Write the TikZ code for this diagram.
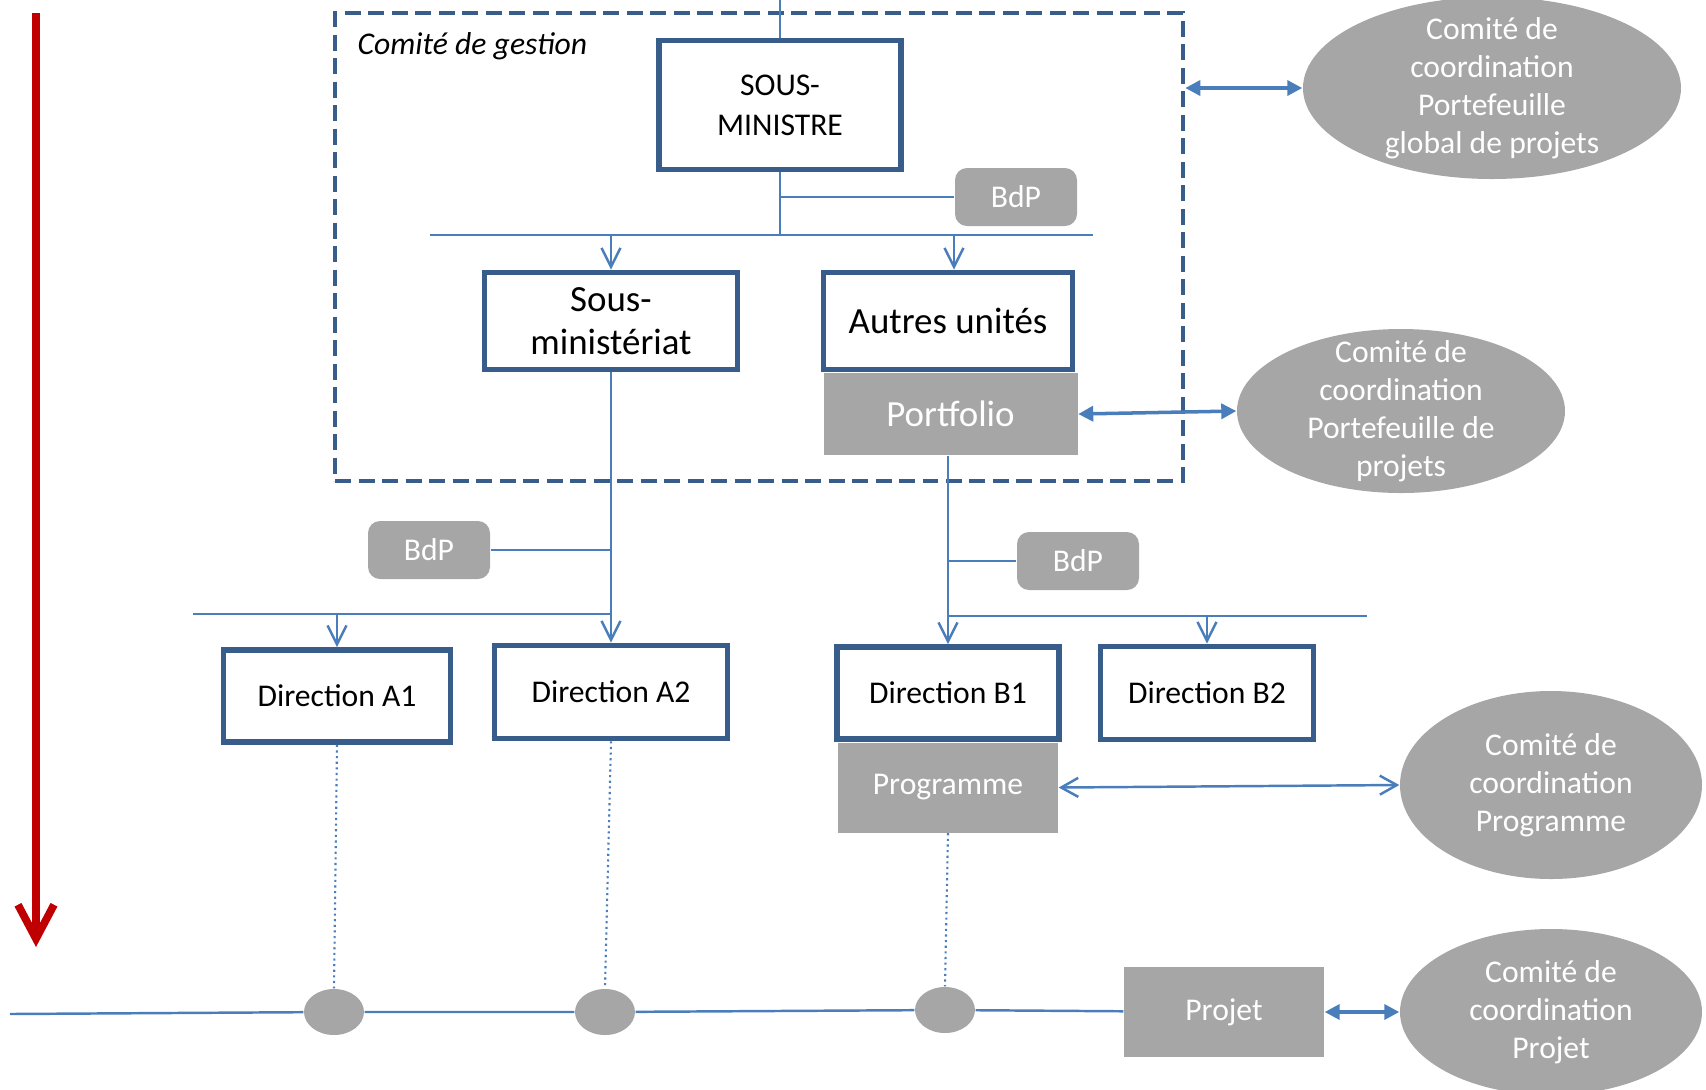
\documentclass[tikz,border=0pt]{standalone}
\usepackage{fontspec}
\setmainfont{Carlito}
\usetikzlibrary{arrows.meta,positioning,shapes.geometric}
\definecolor{boxblue}{HTML}{385D8A}
\definecolor{linkblue}{HTML}{4A7EBB}
\definecolor{panelgray}{HTML}{A6A6A6}
\definecolor{darkred}{HTML}{C00000}
\newcommand{\smallfont}{\fontsize{9pt}{10.8pt}\selectfont}
\newcommand{\largefont}{\fontsize{10.5pt}{12.4pt}\selectfont}

\begin{document}
\begin{tikzpicture}[
  x=0.1mm, y=-0.1mm,
  unit/.style={rectangle, draw=boxblue, line width=1.6pt, fill=white, align=center,
              inner sep=0pt, font=\smallfont},
  panel/.style={rectangle, fill=panelgray, text=white, align=center, inner sep=0pt, font=\smallfont},
  bdp/.style={panel, rounded corners=1.2mm, minimum width=12.2mm, minimum height=5.8mm},
  comite/.style={ellipse, fill=panelgray, text=white, align=center, inner sep=-2mm, font=\smallfont},
  knot/.style={ellipse, fill=panelgray, minimum width=6mm, minimum height=4.6mm, inner sep=0pt},
  frame/.style={rectangle, draw=boxblue, line width=1.3pt, dash pattern=on 1.6mm off 0.75mm, inner sep=0pt},
  link/.style={linkblue, line width=0.7pt},
  down/.style={link, -{Straight Barb[length=1.9mm, width=1.9mm]}},
  dots/.style={linkblue, line width=0.6pt, densely dotted},
  both/.style={linkblue, line width=1pt, {Triangle[length=1.5mm, width=1.5mm]}-{Triangle[length=1.5mm, width=1.5mm]}},
  bothopen/.style={link, {Straight Barb[length=1.7mm, width=1.9mm]}-{Straight Barb[length=1.7mm, width=1.9mm]}},
  timeline/.style={darkred, line width=2.2pt, -{Straight Barb[length=3.4mm, width=3.6mm]}}
]
\useasboundingbox (0,0) rectangle (1706,1089);

\node[frame, minimum width=84.8mm, minimum height=46.8mm] (gestion) at (759,247) {};
\node[font=\smallfont\itshape, anchor=base west, inner sep=0pt] (gestionlabel) at (357,54) {Comité de gestion};

\node[unit, font=\fontsize{9pt}{11.4pt}\selectfont, minimum width=24.2mm, minimum height=12.9mm] (sm) at (780,105) {SOUS-\\MINISTRE};
\node[bdp] (bdp1) at (1016,197) {BdP};
\node[unit, font=\largefont, minimum width=25.3mm, minimum height=9.7mm] (sousmin) at (611,321) {Sous-\\ministériat};
\node[unit, font=\largefont, minimum width=24.9mm, minimum height=9.7mm] (autres) at (948,321) {Autres unités};
\node[panel, font=\largefont, minimum width=25.4mm, minimum height=8.2mm, below=0pt of autres, xshift=0.25mm] (portfolio) {Portfolio};

\node[comite, minimum width=37.8mm, minimum height=18.2mm] (glob) at (1492,88)
  {Comité de\\coordination\\Portefeuille\\global de projets};
\node[comite, minimum width=32.8mm, minimum height=16.4mm] (portcc) at (1401,411)
  {Comité de\\coordination\\Portefeuille de\\projets};

\node[bdp] (bdp2) at (429,550) {BdP};
\node[bdp] (bdp3) at (1078,561) {BdP};

\node[unit, minimum width=22.7mm, minimum height=9.2mm] (dirA1) at (337,696) {Direction A1};
\node[unit, minimum width=23.3mm, minimum height=9.3mm] (dirA2) at (611,692) {Direction A2};
\node[unit, minimum width=22.2mm, minimum height=9.2mm] (dirB1) at (948,693) {Direction B1};
\node[unit, minimum width=21.3mm, minimum height=9.3mm] (dirB2) at (1207,693) {Direction B2};
\node[panel, minimum width=22mm, minimum height=9mm, below=0pt of dirB1] (programme) {Programme};

\node[comite, minimum width=30.2mm, minimum height=18.8mm] (progcc) at (1551,785)
  {Comité de\\coordination\\Programme};

\node[knot] (c1) at (334,1012) {};
\node[knot] (c2) at (605,1012) {};
\node[knot] (c3) at (945,1010) {};
\node[panel, minimum width=20mm, minimum height=9mm] (projet) at (1224,1012) {Projet};
\node[comite, minimum width=30.2mm, minimum height=16.6mm] (projcc) at (1551,1012)
  {Comité de\\coordination\\Projet};

\coordinate (top) at (780,0);
\coordinate (barL) at (430,235);
\coordinate (barR) at (1093,235);
\coordinate (barA) at (193,614);
\coordinate (barB) at (1367,616);
\coordinate (baseL) at (10,1014);
\coordinate (timeA) at (36,13);
\coordinate (timeB) at (36,947);

\draw[link] (top) -- (sm.north);
\draw[link] (sm.south) -- (sm.south |- barL);
\draw[link] (sm.south |- bdp1.west) -- (bdp1.west);
\draw[link] (barL) -- (barR);
\draw[down] (sousmin.north |- barL) -- (sousmin.north);
\draw[down] ([xshift=0.6mm]autres.north |- barL) -- ([xshift=0.6mm]autres.north);

\draw[down] (sousmin.south) -- (dirA2.north);
\draw[link] (bdp2.east) -- (sousmin.south |- bdp2.east);
\draw[link] (barA) -- (dirA2.north |- barA);
\draw[down] (dirA1.north |- barA) -- (dirA1.north);

\draw[down] (dirB1.north |- portfolio.south) -- (dirB1.north);
\draw[link] (bdp3.west) -- (dirB1.north |- bdp3.west);
\draw[link] (dirB1.north |- barB) -- (barB);
\draw[down] (dirB2.north |- barB) -- (dirB2.north);

\draw[dots] (dirA1.south) -- (c1.north);
\draw[dots] (dirA2.south) -- (c2.north);
\draw[dots] (programme.south) -- (c3.north);
\draw[link] (baseL) -- (c1) -- (c2) -- (c3) -- (projet);

\draw[both] (gestion.east |- glob.west) -- (glob.west);
\draw[both] (portfolio.east) -- (portcc.west);
\draw[bothopen] (programme.east) -- (progcc.west);
\draw[both] (projet.east) -- (projcc.west);

\draw[timeline] (timeA) -- (timeB);
\end{tikzpicture}
\end{document}
